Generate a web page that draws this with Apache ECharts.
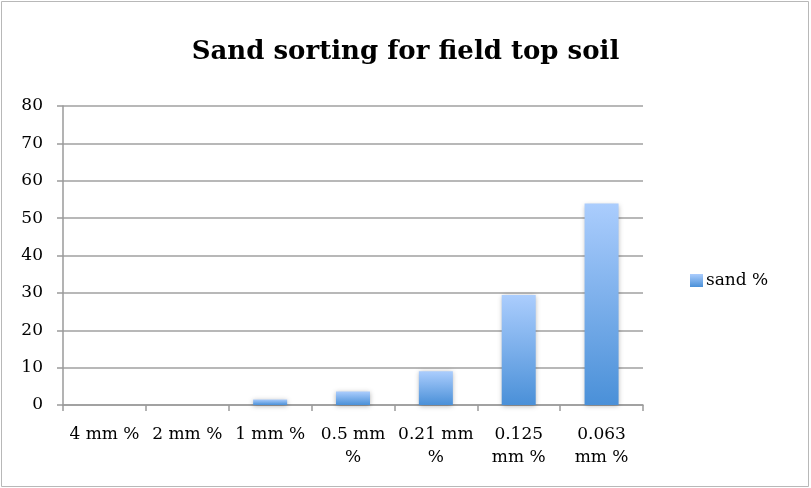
<!DOCTYPE html>
<html><head><meta charset="utf-8">
<script src="https://cdn.jsdelivr.net/npm/echarts@6/dist/echarts.min.js"></script>
<style>html,body{margin:0;padding:0;background:#fff}#c{width:811px;height:488px}</style>
</head><body><div id="c"></div>
<script>
var categories = ['4 mm %', '2 mm %', '1 mm %', '0.5 mm %', '0.21 mm %', '0.125 mm %', '0.063 mm %'];
var tickLabels = ['4 mm %', '2 mm %', '1 mm %', '0.5 mm\n%', '0.21 mm\n%', '0.125\nmm %', '0.063\nmm %'];
var sandValues = [0, 0, 1.5, 3.6, 9.0, 29.4, 53.9];
var seriesName = 'sand %';
var titleText = 'Sand sorting for field top soil';

var chart = echarts.init(document.getElementById('c'), null, {renderer: 'canvas'});
var serif = '"DejaVu Serif", "Liberation Serif", serif';
chart.setOption({
  animation: false,
  backgroundColor: '#fff',
  graphic: [{type: 'rect', shape: {x: 1.5, y: 1.5, width: 807, height: 485}, style: {fill: 'none', stroke: '#b8b8b8', lineWidth: 1}, silent: true}],
  title: {text: titleText, left: 'center', top: 34, textStyle: {fontFamily: serif, fontWeight: 'bold', fontSize: 26, color: '#000'}},
  legend: {data: [seriesName], left: 690, top: 272, padding: 0, itemWidth: 13, itemHeight: 13, itemGap: 4, icon: 'rect',
    textStyle: {fontFamily: serif, fontSize: 17, color: '#000', padding: [0,0,0,-2]}},
  grid: {left: 63, right: 168, top: 106, bottom: 83},
  xAxis: {type: 'category', data: categories,
    axisLine: {lineStyle: {color: '#9a9a9a', width: 1.5}},
    axisTick: {show: true, length: 6, lineStyle: {color: '#9a9a9a', width: 1.5}},
    axisLabel: {interval: 0, margin: 18, fontFamily: serif, fontSize: 17, color: '#000', lineHeight: 23,
      formatter: function (v, i) { return tickLabels[i]; }}},
  yAxis: {type: 'value', min: 0, max: 80, interval: 10,
    axisLine: {show: true, lineStyle: {color: '#9a9a9a', width: 1.5}},
    axisTick: {show: true, length: 6, lineStyle: {color: '#9a9a9a', width: 1.5}},
    splitLine: {lineStyle: {color: '#a0a0a0', width: 1.5}},
    axisLabel: {margin: 20, fontFamily: serif, fontSize: 17, color: '#000'}},
  series: [{name: seriesName, type: 'bar', data: sandValues, barWidth: 34,
    itemStyle: {
      color: new echarts.graphic.LinearGradient(0, 0, 0, 1, [{offset: 0, color: '#abcdfd'}, {offset: 1, color: '#4a90d8'}]),
      shadowBlur: 5, shadowColor: 'rgba(0,0,0,0.3)', shadowOffsetY: 1
    }}]
});
</script></body></html>
